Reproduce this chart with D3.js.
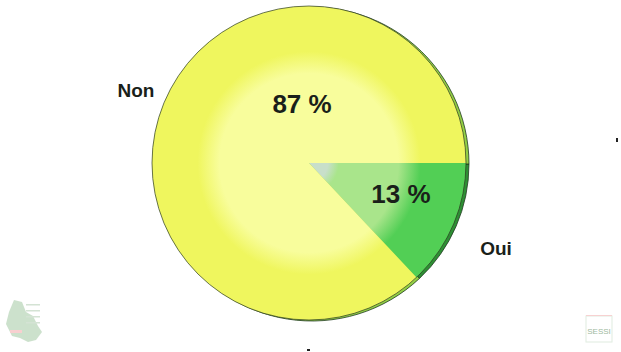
<!DOCTYPE html>
<html>
<head>
    <meta charset="utf-8">
    <script src="https://d3js.org/d3.v7.min.js"></script>
    <style>
        body { margin: 0; background: #fff; }
        text { font-family: "Liberation Sans", Arial, sans-serif; font-weight: bold; fill: #1a1f1a; }
    </style>
</head>
<body>
<svg id="chart"></svg>
<script>
    var labels = ['Oui', 'Non'];
    var values = [13, 87];
    var pctLabels = ['13 %', '87 %'];
    var outerColors = ['#52cf55', '#eff65e'];
    var midColors = ['#a9e58b', '#f8fd9c'];
    var rimColors = ['#2e8f34', '#93cf45'];

    var width = 621, height = 352;
    var cx = 309, cy = 163, radius = 157;

    var svg = d3.select('#chart').attr('width', width).attr('height', height);
    var defs = svg.append('defs');

    var pie = d3.pie().sort(null)
        .startAngle(Math.PI / 2)
        .endAngle(Math.PI / 2 + 2 * Math.PI)
        .value(function(d, i) { return values[i]; });
    var arcs = pie(labels);

    var arc = d3.arc().innerRadius(0).outerRadius(radius);

    // gradients per slice
    labels.forEach(function(l, i) {
        var g = defs.append('radialGradient')
            .attr('id', 'grad' + i)
            .attr('gradientUnits', 'userSpaceOnUse')
            .attr('cx', 0).attr('cy', 0).attr('r', radius);
        if (i === 0) {
            g.append('stop').attr('offset', '0.12').attr('stop-color', '#c8dfca');
            g.append('stop').attr('offset', '0.19').attr('stop-color', midColors[i]);
        } else {
            g.append('stop').attr('offset', '0').attr('stop-color', midColors[i]);
        }
        g.append('stop').attr('offset', '0.57').attr('stop-color', midColors[i]);
        g.append('stop').attr('offset', '0.71').attr('stop-color', outerColors[i]);
        g.append('stop').attr('offset', '1').attr('stop-color', outerColors[i]);
    });

    // 3D rim (offset copy behind)
    var rim = svg.append('g').attr('transform', 'translate(' + (cx + 3) + ',' + (cy + 1) + ')');
    rim.selectAll('path').data(arcs).enter().append('path')
        .attr('d', arc)
        .attr('fill', function(d, i) { return rimColors[i]; })
        .attr('stroke', '#1f3a1f')
        .attr('stroke-width', 0.8);

    var pieG = svg.append('g').attr('transform', 'translate(' + cx + ',' + cy + ')');
    pieG.selectAll('path').data(arcs).enter().append('path')
        .attr('d', arc)
        .attr('fill', function(d, i) { return 'url(#grad' + i + ')'; });
    pieG.append('circle').attr('r', radius)
        .attr('fill', 'none')
        .attr('stroke', '#2a3a20')
        .attr('stroke-width', 0.7);

    // percent labels inside
    var pctPos = [[92, 40], [-7, -50]];
    pieG.selectAll('text.pct').data(arcs).enter().append('text')
        .attr('class', 'pct')
        .attr('x', function(d, i) { return pctPos[i][0]; })
        .attr('y', function(d, i) { return pctPos[i][1]; })
        .attr('text-anchor', 'middle')
        .style('font-size', '26px')
        .text(function(d, i) { return pctLabels[i]; });

    // category labels outside
    var labelPos = [[187, 92], [-173, -66]];
    pieG.selectAll('text.cat').data(arcs).enter().append('text')
        .attr('class', 'cat')
        .attr('x', function(d, i) { return labelPos[i][0]; })
        .attr('y', function(d, i) { return labelPos[i][1]; })
        .attr('text-anchor', 'middle')
        .style('font-size', '19px')
        .text(function(d, i) { return labels[i]; });

    // small stray marks
    svg.append('rect').attr('x', 616).attr('y', 138).attr('width', 2).attr('height', 4).attr('fill', '#222');
    svg.append('rect').attr('x', 307).attr('y', 349).attr('width', 3).attr('height', 2).attr('fill', '#222');

    // faint logos
    var logoL = svg.append('g').attr('opacity', 0.5);
    logoL.append('path')
        .attr('d', 'M14,300 L22,302 L26,312 L33,316 L38,326 L42,332 L36,340 L28,342 L20,338 L12,336 L6,324 L9,312 Z')
        .attr('fill', '#9bc49b');
    logoL.append('rect').attr('x', 10).attr('y', 330).attr('width', 12).attr('height', 3).attr('fill', '#f3a3a3');
    [304, 310, 316, 322].forEach(function(y) {
        logoL.append('rect').attr('x', 26).attr('y', y).attr('width', 14).attr('height', 1.5).attr('fill', '#aac8aa');
    });
    var logoR = svg.append('g').attr('opacity', 0.6);
    logoR.append('rect').attr('x', 586).attr('y', 316).attr('width', 26).attr('height', 26)
        .attr('fill', 'none').attr('stroke', '#cde0cd');
    logoR.append('text').attr('x', 599).attr('y', 334).attr('text-anchor', 'middle')
        .style('font-size', '8px').style('font-weight', 'normal').style('fill', '#5a8a5a').text('SESSI');
    logoR.append('rect').attr('x', 586).attr('y', 315).attr('width', 26).attr('height', 1).attr('fill', '#f3b3b3');
</script>
</body>
</html>
